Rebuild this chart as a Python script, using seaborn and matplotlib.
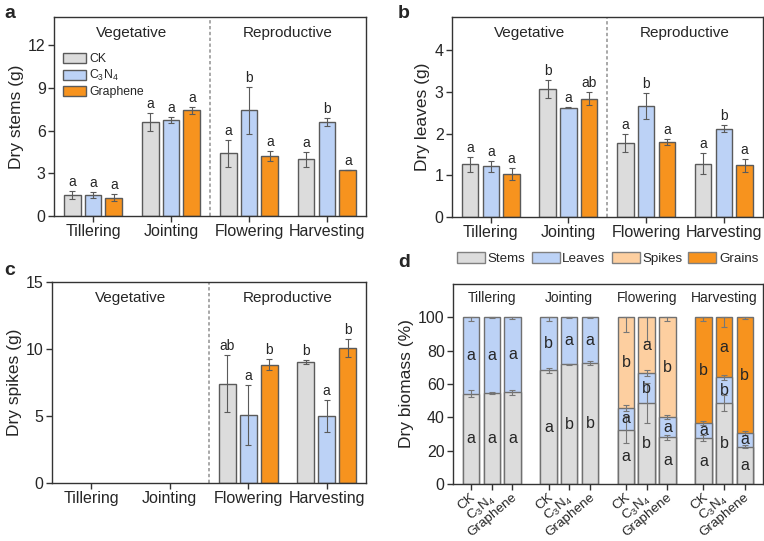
import numpy as np
import pandas as pd
import seaborn as sns
import matplotlib.pyplot as plt
import matplotlib.transforms as mtransforms
from matplotlib.patches import Patch

# Categories
stages = ['Tillering', 'Jointing', 'Flowering', 'Harvesting']
treatments = ['CK', 'C$_3$N$_4$', 'Graphene']

# Panel a: dry stems (g); rows = stages, columns = treatments
stems_mean = [[1.48, 1.48, 1.29], [6.61, 6.73, 7.44], [4.42, 7.44, 4.21], [3.98, 6.61, 3.25]]
stems_err = [[0.30, 0.20, 0.25], [0.65, 0.20, 0.25], [0.95, 1.65, 0.35], [0.50, 0.25, 0.00]]
stems_sig = [['a', 'a', 'a'], ['a', 'a', 'a'], ['a', 'b', 'a'], ['a', 'b', 'a']]

# Panel b: dry leaves (g)
leaves_mean = [[1.26, 1.22, 1.03], [3.07, 2.62, 2.84], [1.77, 2.67, 1.79], [1.28, 2.12, 1.24]]
leaves_err = [[0.17, 0.13, 0.15], [0.22, 0.01, 0.16], [0.21, 0.31, 0.07], [0.26, 0.08, 0.16]]
leaves_sig = [['a', 'a', 'a'], ['b', 'a', 'ab'], ['a', 'b', 'a'], ['a', 'b', 'a']]

# Panel c: dry spikes (g), nothing measured before flowering
nan = np.nan
spikes_mean = [[nan, nan, nan], [nan, nan, nan], [7.42, 5.09, 8.82], [9.01, 4.97, 10.08]]
spikes_err = [[nan, nan, nan], [nan, nan, nan], [2.10, 2.25, 0.42], [0.15, 1.20, 0.67]]
spikes_sig = [['', '', ''], ['', '', ''], ['ab', 'a', 'b'], ['b', 'a', 'b']]

# Panel d: dry biomass share (%) per organ
parts = ['Stems', 'Leaves', 'Spikes', 'Grains']
pct_stems = [[54.1, 54.5, 55.1], [68.1, 71.7, 72.5], [32.5, 48.5, 28.1], [27.5, 48.5, 22.4]]
pct_leaves = [[45.9, 45.5, 44.9], [31.9, 28.3, 27.5], [13.0, 18.0, 12.0], [9.0, 15.5, 8.1]]
pct_spikes = [[0, 0, 0], [0, 0, 0], [54.5, 33.5, 59.9], [0, 0, 0]]
pct_grains = [[0, 0, 0], [0, 0, 0], [0, 0, 0], [63.5, 36.0, 69.5]]
pct_err_stems = [[2.0, 0.5, 1.5], [1.5, 0.5, 1.0], [8.0, 12.0, 1.5], [2.0, 5.0, 1.0]]
pct_err_leaves = [[2.0, 0.5, 1.0], [2.0, 0.5, 0.5], [2.0, 2.0, 1.0], [1.0, 1.5, 1.0]]
pct_err_spikes = [[0, 0, 0], [0, 0, 0], [9.0, 14.0, 2.0], [0, 0, 0]]
pct_err_grains = [[0, 0, 0], [0, 0, 0], [0, 0, 0], [2.0, 6.0, 1.0]]
sig_stems = [['a', 'a', 'a'], ['a', 'b', 'b'], ['a', 'b', 'a'], ['a', 'b', 'a']]
sig_leaves = [['a', 'a', 'a'], ['b', 'a', 'a'], ['a', 'b', 'a'], ['a', 'b', 'a']]
sig_spikes = [['', '', ''], ['', '', ''], ['b', 'a', 'b'], ['', '', '']]
sig_grains = [['', '', ''], ['', '', ''], ['', '', ''], ['b', 'a', 'b']]

GRAY = '#dcdcdc'
BLUE = '#bcd2f6'
ORANGE = '#f7931e'
PEACH = '#fdcfa0'
EDGE = '#5a5a5a'
treat_colors = [GRAY, BLUE, ORANGE]
part_colors = [GRAY, BLUE, PEACH, ORANGE]

sns.set_style('ticks')
plt.rcParams['font.family'] = ['Liberation Sans', 'DejaVu Sans']
plt.rcParams['mathtext.fontset'] = 'custom'
plt.rcParams['mathtext.rm'] = 'Liberation Sans'
plt.rcParams['mathtext.it'] = 'Liberation Sans:italic'
plt.rcParams['axes.edgecolor'] = '#333333'
plt.rcParams['axes.linewidth'] = 1.0


def long_df(mean, err, sig):
    rows = []
    for i, st in enumerate(stages):
        for j, tr in enumerate(treatments):
            rows.append({'stage': st, 'treatment': tr, 'value': mean[i][j],
                         'err': err[i][j], 'sig': sig[i][j]})
    return pd.DataFrame(rows)


def style_axis(ax, ylim, yticks, ylabel):
    ax.set_ylim(*ylim)
    ax.set_yticks(yticks)
    ax.set_xlim(-0.5, 3.5)
    ax.set_xlabel('')
    ax.set_ylabel(ylabel, fontsize=12.5, labelpad=3)
    ax.tick_params(direction='out', length=4, width=1, color='#333333',
                   labelsize=11.5, pad=2)
    for s in ax.spines.values():
        s.set_visible(True)


def bar_panel(ax, mean, err, sig, ylim, yticks, ylabel):
    df = long_df(mean, err, sig)
    sns.barplot(data=df.dropna(subset=['value']), x='stage', y='value',
                hue='treatment', order=stages, hue_order=treatments,
                palette=treat_colors, saturation=1, edgecolor=EDGE, linewidth=1,
                width=0.8, gap=0.2, errorbar=None, legend=False, ax=ax)
    conts = list(ax.containers)
    for j, cont in enumerate(conts):
        for bar in cont.patches:
            xc = bar.get_x() + bar.get_width() / 2
            i = int(round(xc))
            row = df[(df.stage == stages[i]) & (df.treatment == treatments[j])].iloc[0]
            ax.errorbar(xc, row.value, yerr=row.err, fmt='none', ecolor=EDGE,
                        elinewidth=0.8, capsize=2.5, capthick=0.8)
            ax.annotate(row.sig, (xc, row.value + row.err), xytext=(0, 1.5),
                        textcoords='offset points', ha='center', va='bottom',
                        fontsize=10)
    ax.axvline(1.5, color='#999999', linestyle=(0, (2, 1.5)), linewidth=1.2)
    top = ylim[1]
    ax.text(0.5, top * 0.92, 'Vegetative', ha='center', va='center', fontsize=11)
    ax.text(2.5, top * 0.92, 'Reproductive', ha='center', va='center', fontsize=11)
    style_axis(ax, ylim, yticks, ylabel)


fig = plt.figure(figsize=(7.64, 5.41), dpi=100)
ax_a = fig.add_axes([0.0707, 0.6007, 0.4083, 0.3679])
ax_b = fig.add_axes([0.5916, 0.5989, 0.4066, 0.3697])
ax_c = fig.add_axes([0.0680, 0.1072, 0.4110, 0.3715])
ax_d = fig.add_axes([0.5930, 0.1054, 0.4055, 0.3697])

bar_panel(ax_a, stems_mean, stems_err, stems_sig, (0, 14), [0, 3, 6, 9, 12], 'Dry stems (g)')
bar_panel(ax_b, leaves_mean, leaves_err, leaves_sig, (0, 4.8), [0, 1, 2, 3, 4], 'Dry leaves (g)')
bar_panel(ax_c, spikes_mean, spikes_err, spikes_sig, (0, 15), [0, 5, 10, 15], 'Dry spikes (g)')

handles = [Patch(facecolor=c, edgecolor=EDGE, linewidth=1, label=t)
           for c, t in zip(treat_colors, treatments)]
ax_a.legend(handles=handles, loc='upper left', bbox_to_anchor=(0.01, 0.85),
            frameon=False, borderpad=0, fontsize=8.8, handlelength=1.85,
            handleheight=0.9, handletextpad=0.25, labelspacing=0.22)

# Panel d: stacked percentages, drawn from the top layer down
part_vals = np.array([pct_stems, pct_leaves, pct_spikes, pct_grains], dtype=float)
part_errs = np.array([pct_err_stems, pct_err_leaves, pct_err_spikes, pct_err_grains], dtype=float)
part_sigs = [sig_stems, sig_leaves, sig_spikes, sig_grains]
cum = np.cumsum(part_vals, axis=0)
top_layer = np.array([[max(k for k in range(4) if part_vals[k, i, j] > 0)
                       for j in range(3)] for i in range(4)])

for k in range(3, -1, -1):
    layer = np.where(part_vals[k] > 0, cum[k], np.nan)
    df = long_df(layer, part_errs[k], part_sigs[k])
    df = df.dropna(subset=['value'])
    if df.empty:
        continue
    sns.barplot(data=df, x='stage', y='value', hue='treatment', order=stages,
                hue_order=treatments, palette=[part_colors[k]] * 3, saturation=1,
                edgecolor='#707070', linewidth=1, width=0.8, gap=0.2,
                errorbar=None, legend=False, ax=ax_d)

xpos = np.zeros((4, 3))
for j, cont in enumerate(list(ax_d.containers)[-3:]):
    for bar in cont.patches:
        xc = bar.get_x() + bar.get_width() / 2
        xpos[int(round(xc)), j] = xc

for k in range(4):
    for i in range(4):
        for j in range(3):
            if part_vals[k, i, j] <= 0:
                continue
            y = cum[k, i, j]
            e = part_errs[k, i, j]
            yerr = [[e], [0]] if top_layer[i, j] == k else [[e], [e]]
            ax_d.errorbar(xpos[i, j], y, yerr=yerr, fmt='none', ecolor='#777777',
                          elinewidth=0.8, capsize=2.5, capthick=0.8)
            ax_d.text(xpos[i, j], y - part_vals[k, i, j] / 2, part_sigs[k][i][j],
                      ha='center', va='center', fontsize=11.5)

for i, st in enumerate(stages):
    ax_d.text(i, 111.5, st, ha='center', va='center', fontsize=10)

style_axis(ax_d, (0, 120), [0, 20, 40, 60, 80, 100], 'Dry biomass (%)')
ax_d.set_xticks(xpos.flatten())
ax_d.set_xticklabels(treatments * 4, rotation=40, ha='right', va='top',
                     fontsize=9.7)
ax_d.tick_params(axis='x', pad=1.5)
shift = mtransforms.ScaledTranslation(5 / 72, 0, fig.dpi_scale_trans)
for lbl in ax_d.get_xticklabels():
    lbl.set_transform(lbl.get_transform() + shift)

part_handles = [Patch(facecolor=c, edgecolor='#808080', linewidth=1, label=p)
                for c, p in zip(part_colors, parts)]
ax_d.legend(handles=part_handles, loc='lower left', bbox_to_anchor=(-0.008, 1.06),
            ncol=4, frameon=False, borderpad=0, fontsize=9.6, handlelength=2.1,
            handleheight=0.85, handletextpad=0.2, columnspacing=0.45)

for lab, x, y in [('a', 0.006, 0.99), ('b', 0.521, 0.99), ('c', 0.006, 0.515), ('d', 0.521, 0.53)]:
    fig.text(x, y, lab, fontsize=14, fontweight='bold', ha='left', va='top')

fig.savefig('out.png', dpi=100)
